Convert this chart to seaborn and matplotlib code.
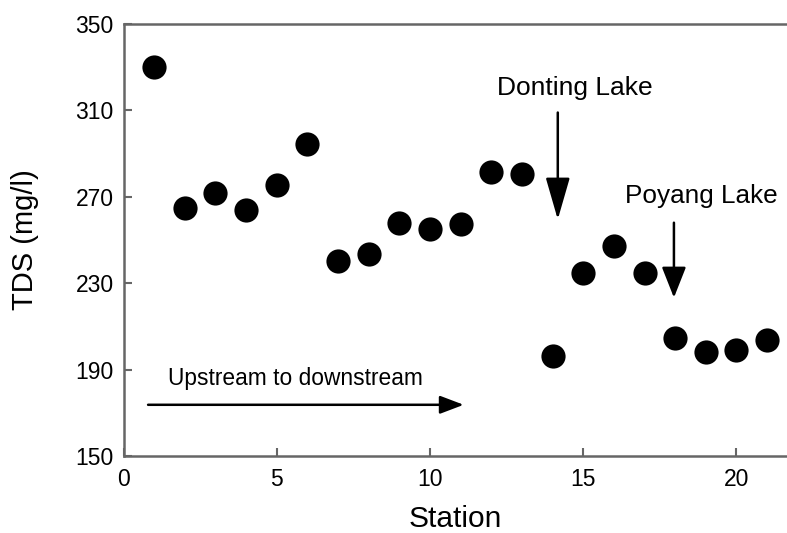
"""
TDS along the river stations
"""
import seaborn as sns
import matplotlib.pyplot as plt
import pandas as pd

station = list(range(1, 22))
tds = [330, 265, 271.6, 264, 275.3, 294.3, 240.5, 243.7, 258, 255.3, 257.2,
       281.3, 280.4, 196.4, 234.5, 247, 234.5, 204.8, 198.3, 199.2, 203.8]
df = pd.DataFrame({"Station": station, "TDS": tds})

sns.set_style("ticks")
plt.rcParams['font.family'] = ['Liberation Sans', 'DejaVu Sans']
plt.rcParams['text.color'] = 'black'
plt.rcParams['xtick.labelcolor'] = 'black'
plt.rcParams['ytick.labelcolor'] = 'black'

fig = plt.figure(figsize=(7.87, 5.33), dpi=100)
ax = fig.add_axes([0.157, 0.1445, 0.843, 0.8105])

sns.scatterplot(x="Station", y="TDS", data=df, color="black", s=260, edgecolor="black", ax=ax, zorder=3)

ax.set_xlim(0, 21.65)
ax.set_ylim(150, 350)
ax.set_xticks([0, 5, 10, 15, 20])
ax.set_yticks([150, 190, 230, 270, 310, 350])
ax.tick_params(direction="in", length=6, width=1.5, color="#666666", labelsize=16.5)
ax.tick_params(axis="y", pad=7)
ax.tick_params(axis="x", pad=9)
for side in ["left", "bottom", "top"]:
    ax.spines[side].set_color("#666666")
    ax.spines[side].set_linewidth(1.8)
ax.spines["right"].set_visible(False)
ax.set_xlabel("Station", fontsize=21.5, labelpad=10, color="black")
ax.set_ylabel("TDS (mg/l)", fontsize=21, labelpad=26, color="black")

def arrow(hl, hw):
    return dict(arrowstyle=f"-|>,head_length={hl},head_width={hw}",
                color="black", lw=1.8, mutation_scale=10, shrinkA=0, shrinkB=0)

ax.annotate("", xy=(11.1, 173.7), xytext=(0.8, 173.7), arrowprops=arrow(1.45, 0.55))
ax.text(1.45, 185.7, "Upstream to downstream", fontsize=16.4, va="center", ha="left")

ax.annotate("", xy=(14.17, 259.5), xytext=(14.17, 309), arrowprops=arrow(2.6, 0.75))
ax.text(14.73, 320.3, "Donting Lake", fontsize=19, va="center", ha="center")

ax.annotate("", xy=(17.96, 223.3), xytext=(17.96, 258), arrowprops=arrow(1.9, 0.75))
ax.text(18.87, 270.2, "Poyang Lake", fontsize=18.8, va="center", ha="center")

fig.savefig("out.png", dpi=100)
